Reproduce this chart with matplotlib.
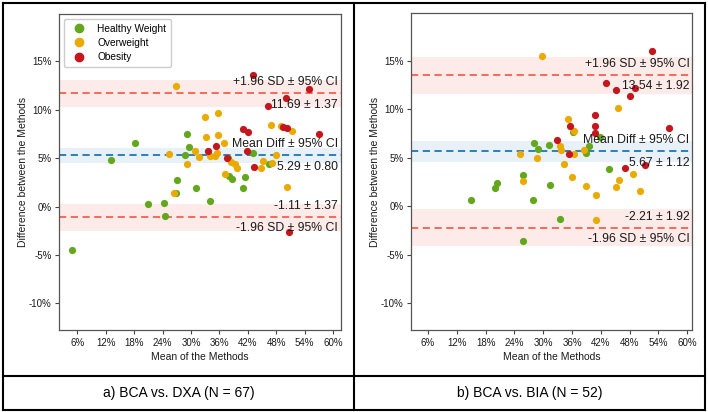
import matplotlib.pyplot as plt
from matplotlib.ticker import PercentFormatter
from matplotlib.lines import Line2D
import matplotlib.transforms as mtransforms

plt.rcParams['font.family'] = ['Liberation Sans', 'DejaVu Sans']
plt.rcParams['axes.unicode_minus'] = False

# ---- panel a) BCA vs. DXA ----
a_healthy_x = [13.1, 18.1, 29.2, 29.5, 28.8, 27.1, 31.1, 26.9, 34.1, 37.9, 38.1, 38.7,
               43.1, 41.5, 41.0, 46.4, 4.95, 20.9, 24.4, 24.6]
a_healthy_y = [4.83, 6.62, 7.45, 6.17, 5.31, 2.79, 1.96, 1.38, 0.6, 5.0, 3.21, 2.83,
               5.55, 3.04, 1.90, 4.45, -4.51, 0.25, 0.35, -0.99]
a_over_x = [26.8, 25.3, 29.1, 30.9, 31.7, 26.5, 33.0, 33.2, 34.1, 35.0, 35.8, 35.7, 35.5,
            36.9, 37.2, 38.4, 39.3, 39.8, 44.7, 45.1, 46.9, 47.0, 48.0, 49.1, 51.3, 50.2]
a_over_y = [12.45, 5.48, 4.45, 5.76, 5.14, 1.38, 9.28, 7.18, 5.27, 5.27, 9.62, 7.38, 5.58,
            6.52, 3.41, 4.65, 4.42, 4.03, 4.03, 4.76, 8.48, 4.52, 5.38, 8.35, 7.83, 2.04]
a_obese_x = [33.6, 35.2, 37.6, 40.9, 42.0, 41.8, 43.3, 46.2, 49.5, 50.2, 50.0, 55.0, 43.1,
             57.0, 50.7]
a_obese_y = [5.73, 6.28, 5.04, 8.04, 7.73, 5.76, 4.14, 10.44, 8.24, 8.1, 11.27, 12.14, 13.62,
             7.55, -2.58]
a_mean, a_mean_ci = 5.29, 0.80
a_upper, a_lower, a_loa_ci = 11.69, -1.11, 1.37

# ---- panel b) BCA vs. BIA ----
b_healthy_x = [36.1, 41.8, 28.1, 29.0, 31.1, 39.5, 38.8, 25.8, 31.3, 20.3, 19.9, 43.6,
               15.0, 27.9, 33.4, 25.7]
b_healthy_y = [7.69, 7.18, 6.56, 5.97, 6.31, 6.2, 5.55, 3.28, 2.21, 2.38, 1.86, 3.83,
               0.7, 0.7, -1.3, -3.52]
b_over_x = [29.7, 45.6, 35.2, 36.4, 33.4, 33.6, 25.2, 28.7, 36.4, 38.4, 34.3, 36.0, 25.7,
            48.6, 45.8, 45.2, 38.8, 41.0, 50.1, 41.0]
b_over_y = [15.55, 10.2, 8.97, 7.83, 6.28, 5.86, 5.45, 5.04, 5.45, 5.79, 4.42, 3.07, 2.66,
            3.31, 2.76, 2.04, 2.11, 1.14, 1.59, -1.45]
b_obese_x = [52.6, 43.1, 45.2, 49.2, 48.1, 35.6, 40.8, 40.8, 40.7, 56.2, 32.9, 35.4, 47.1, 51.1]
b_obese_y = [16.07, 12.69, 12.0, 12.24, 11.34, 8.31, 9.41, 8.31, 7.55, 8.04, 6.86, 5.45, 3.97, 4.24]
b_mean, b_mean_ci = 5.67, 1.12
b_upper, b_lower, b_loa_ci = 13.54, -2.21, 1.92

captions = ["a) BCA vs. DXA (N = 67)", "b) BCA vs. BIA (N = 52)"]
xticks = [6, 12, 18, 24, 30, 36, 42, 48, 54, 60]
yticks = [-10, -5, 0, 5, 10, 15]

GREEN, ORANGE, RED = '#62a71c', '#e9ab02', '#c4161c'
LOA = '#f4614c'
MEANC = '#1f77b4'

W, H = 708, 412
fig = plt.figure(figsize=(W / 100, H / 100), dpi=100)


def px_axes(x0, y0, x1, y1):
    return fig.add_axes([x0 / W, 1 - y1 / H, (x1 - x0) / W, (y1 - y0) / H])


def draw_panel(ax, groups, mean, mean_ci, upper, lower, loa_ci, xlim, legend=False):
    ax.axhspan(mean - mean_ci, mean + mean_ci, color=MEANC, alpha=0.1, lw=0, zorder=0)
    ax.axhspan(upper - loa_ci, upper + loa_ci, color=LOA, alpha=0.12, lw=0, zorder=0)
    ax.axhspan(lower - loa_ci, lower + loa_ci, color=LOA, alpha=0.12, lw=0, zorder=0)
    ax.axhline(mean, color=MEANC, ls='--', lw=1.3, dashes=(4, 2.5), zorder=1)
    ax.axhline(upper, color=LOA, ls='--', lw=1.3, dashes=(4, 2.5), zorder=1)
    ax.axhline(lower, color=LOA, ls='--', lw=1.3, dashes=(4, 2.5), zorder=1)

    for xs, ys, c, lab in groups:
        ax.scatter(xs, ys, s=27, color=c, label=lab, zorder=2, linewidths=0)

    tr = mtransforms.blended_transform_factory(ax.transAxes, ax.transData)
    labels = [
        (upper, "+1.96 SD ± 95% CI", f"{upper:.2f} ± {loa_ci:.2f}"),
        (mean, "Mean Diff ± 95% CI", f"{mean:.2f} ± {mean_ci:.2f}"),
        (lower, f"{lower:.2f} ± {loa_ci:.2f}", "-1.96 SD ± 95% CI"),
    ]
    for yv, above, below in labels:
        ax.annotate(above, (0.99, yv), xycoords=tr, xytext=(0, 8), textcoords='offset points',
                    ha='right', va='center', fontsize=8.8, color='#1a1a1a', zorder=3)
        ax.annotate(below, (0.99, yv), xycoords=tr, xytext=(0, -8), textcoords='offset points',
                    ha='right', va='center', fontsize=8.8, color='#1a1a1a', zorder=3)

    ax.set_xlim(*xlim)
    ax.set_ylim(-12.75, 19.9)
    ax.set_xticks(xticks)
    ax.set_yticks(yticks)
    ax.xaxis.set_major_formatter(PercentFormatter(100, decimals=0))
    ax.yaxis.set_major_formatter(PercentFormatter(100, decimals=0))
    ax.tick_params(labelsize=7, length=3, pad=2.5, color='#444444', labelcolor='#1a1a1a')
    for sp in ax.spines.values():
        sp.set_color('#555555')
        sp.set_linewidth(0.9)
    ax.set_xlabel("Mean of the Methods", fontsize=7.5, color='#1a1a1a', labelpad=3)
    ax.set_ylabel("Difference between the Methods", fontsize=7.5, color='#1a1a1a', labelpad=1)

    if legend:
        handles = [Line2D([], [], marker='o', ls='', color=c, markersize=6, label=lab)
                   for _, _, c, lab in groups]
        ax.legend(handles=handles, loc='upper left', fontsize=7.3, frameon=True,
                  borderpad=0.5, labelspacing=0.42, handletextpad=0.8,
                  borderaxespad=0.45, edgecolor='#cccccc', framealpha=1)


ax1 = px_axes(59.3, 14, 340.7, 330)
draw_panel(ax1, [(a_healthy_x, a_healthy_y, GREEN, 'Healthy Weight'),
                 (a_over_x, a_over_y, ORANGE, 'Overweight'),
                 (a_obese_x, a_obese_y, RED, 'Obesity')],
           a_mean, a_mean_ci, a_upper, a_lower, a_loa_ci, (2.2, 61.6), legend=True)

ax2 = px_axes(411.3, 13.5, 692.3, 330)
draw_panel(ax2, [(b_healthy_x, b_healthy_y, GREEN, 'Healthy Weight'),
                 (b_over_x, b_over_y, ORANGE, 'Overweight'),
                 (b_obese_x, b_obese_y, RED, 'Obesity')],
           b_mean, b_mean_ci, b_upper, b_lower, b_loa_ci, (2.5, 61.05))

# table-like frame around the panels and captions
frame = dict(color='black', lw=1.5, transform=fig.transFigure)
for x0, y0, x1, y1 in [(3, 3, 705, 3), (3, 409.5, 705, 409.5), (3, 3, 3, 409.5),
                       (705, 3, 705, 409.5), (354, 3, 354, 409.5), (3, 376, 705, 376)]:
    fig.add_artist(Line2D([x0 / W, x1 / W], [1 - y0 / H, 1 - y1 / H], **frame))

fig.text(178.5 / W, 1 - 393 / H, captions[0], ha='center', va='center', fontsize=10)
fig.text(530 / W, 1 - 393 / H, captions[1], ha='center', va='center', fontsize=10)

fig.savefig("out.png", dpi=100)
